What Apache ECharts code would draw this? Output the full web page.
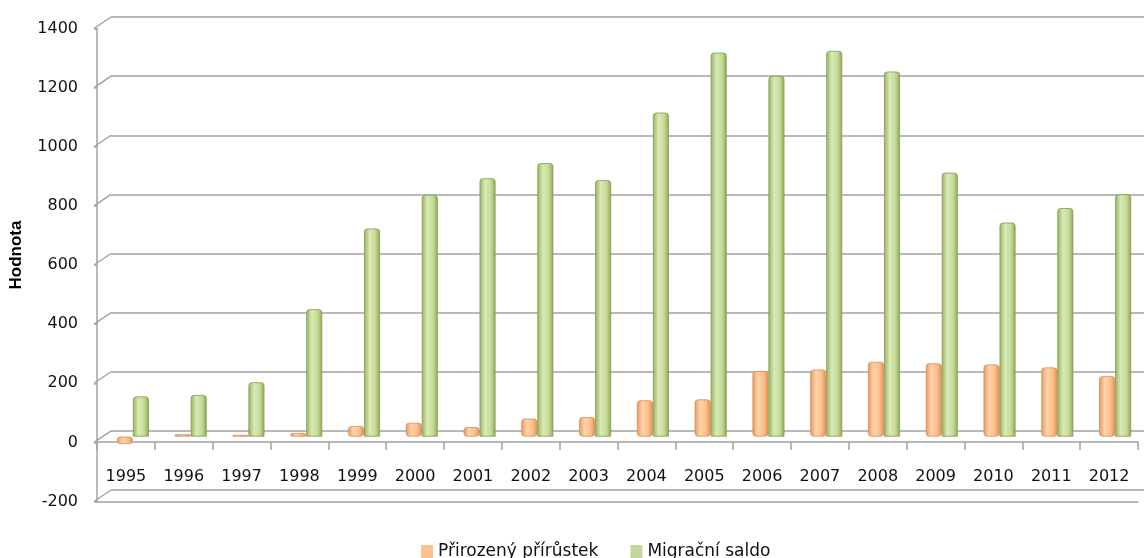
<!DOCTYPE html>
<html>
<head>
<meta charset="utf-8">
<script src="https://cdn.jsdelivr.net/npm/echarts@6/dist/echarts.min.js"></script>
<style>
html,body{margin:0;padding:0;background:#fff;}
#chart{width:1144px;height:558px;}
</style>
</head>
<body>
<div id="chart"></div>
<script>
// ---- data ----
var categories = ['1995','1996','1997','1998','1999','2000','2001','2002','2003','2004','2005','2006','2007','2008','2009','2010','2011','2012'];
var prirozenyPrirustek = [-25, 8, 6, 12, 36, 47, 32, 61, 66, 123, 126, 222, 227, 253, 248, 244, 234, 205];
var migracniSaldo = [136, 141, 184, 431, 704, 818, 874, 925, 868, 1096, 1299, 1220, 1305, 1235, 893, 724, 773, 820];
var yTicks = [-200, 0, 200, 400, 600, 800, 1000, 1200, 1400];
var seriesNames = ['Přirozený přírůstek', 'Migrační saldo'];

var FONT = 'DejaVu Sans';
var GRID_COLOR = '#a3a3a3';
var chart = echarts.init(document.getElementById('chart'));

function cyl(edge, light, mid, edge2) {
  return new echarts.graphic.LinearGradient(0, 0, 1, 0, [
    {offset: 0, color: edge},
    {offset: 0.35, color: light},
    {offset: 0.7, color: mid},
    {offset: 1, color: edge2}
  ]);
}

var yBase = {min: -200, max: 1400, interval: 200};

chart.setOption({
  animation: false,
  backgroundColor: '#ffffff',
  grid: [
    {left: 111, top: 17, width: 1041, height: 473},      // back wall
    {left: 104, top: 22.75, width: 1041, height: 473},   // bar plane
    {left: 97, top: 28.5, width: 1041, height: 473},     // front value axis + floor
    {left: 97, top: 28.5, width: 1041, height: 413.5}    // front category axis (value 0)
  ],
  xAxis: [
    {gridIndex: 0, type: 'category', data: categories, show: false},
    {gridIndex: 1, type: 'category', data: categories, show: false},
    {gridIndex: 2, type: 'category', data: categories, position: 'bottom',
     axisLine: {onZero: false, lineStyle: {color: GRID_COLOR, width: 1.5}},
     axisTick: {show: false}, axisLabel: {show: false}},
    {gridIndex: 3, type: 'category', data: categories, position: 'bottom',
     axisLine: {onZero: false, lineStyle: {color: GRID_COLOR, width: 1.5}},
     axisTick: {show: true, length: 8, lineStyle: {color: GRID_COLOR, width: 1.5}},
     axisLabel: {margin: 27, color: '#111', fontFamily: FONT, fontSize: 16, interval: 0}}
  ],
  yAxis: [
    Object.assign({gridIndex: 0, type: 'value',
      axisLine: {show: false}, axisTick: {show: false}, axisLabel: {show: false},
      splitLine: {show: true, lineStyle: {color: GRID_COLOR, width: 1.5}}}, yBase),
    Object.assign({gridIndex: 1, type: 'value', show: false, splitLine: {show: false}}, yBase),
    Object.assign({gridIndex: 2, type: 'value',
      name: 'Hodnota', nameLocation: 'middle', nameGap: 72, nameRotate: 90,
      nameTextStyle: {fontFamily: 'Liberation Sans', fontWeight: 'bold', fontSize: 17, color: '#000', padding: [0, 0, 0, 20]},
      axisLine: {show: true, lineStyle: {color: GRID_COLOR, width: 1.5}},
      axisTick: {show: true, length: 3, lineStyle: {color: GRID_COLOR, width: 1.5}},
      axisLabel: {margin: 19, color: '#111', fontFamily: FONT, fontSize: 16,
        formatter: function (v) { return String(v); }},
      splitLine: {show: false}}, yBase),
    {gridIndex: 3, type: 'value', min: 0, max: 1400, show: false, splitLine: {show: false}}
  ],
  legend: {
    left: 416, top: 538,
    itemWidth: 12, itemHeight: 13, itemGap: 32,
    icon: 'rect',
    textStyle: {fontFamily: FONT, fontSize: 17, color: '#111'},
    data: [
      {name: seriesNames[0], itemStyle: {color: '#FAC090', borderWidth: 0}},
      {name: seriesNames[1], itemStyle: {color: '#C3D69B', borderWidth: 0}}
    ]
  },
  series: [
    {
      type: 'custom', xAxisIndex: 2, yAxisIndex: 2, silent: true, z: 1,
      data: yTicks.map(function (v) { return [0, v]; }),
      renderItem: function (params, api) {
        var y = api.coord([0, api.value(1)])[1];
        var x0 = params.coordSys.x;
        return {type: 'line', shape: {x1: x0 - 3, y1: y, x2: x0 + 14, y2: y - 11.5},
          style: {stroke: GRID_COLOR, lineWidth: 1.5}};
      }
    },
    {
      name: seriesNames[0], type: 'bar', xAxisIndex: 1, yAxisIndex: 1,
      data: prirozenyPrirustek, barWidth: 16, barGap: '0%', z: 3,
      itemStyle: {color: cyl('#E3985F', '#FFD3AA', '#FCC08C', '#E08F55'),
        borderColor: '#D98E58', borderWidth: 0.8, borderRadius: [3, 3, 3, 3]}
    },
    {
      name: seriesNames[1], type: 'bar', xAxisIndex: 1, yAxisIndex: 1,
      data: migracniSaldo, barWidth: 16, barGap: '0%', z: 3,
      itemStyle: {color: cyl('#98B060', '#DAE9B6', '#C6DB97', '#8FA85A'),
        borderColor: '#839C52', borderWidth: 0.8, borderRadius: [3, 3, 0, 0]}
    }
  ]
});
</script>
</body>
</html>
